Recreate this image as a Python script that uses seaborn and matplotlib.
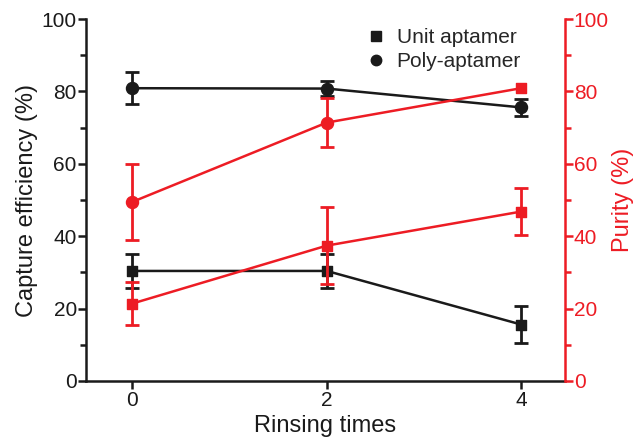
import numpy as np
import pandas as pd
import matplotlib
matplotlib.use("Agg")
import matplotlib.pyplot as plt
import seaborn as sns
from matplotlib.ticker import MultipleLocator
from matplotlib.lines import Line2D

# datos
rinsing = [0, 2, 4]

unit_capture = [30.4, 30.4, 15.6]
unit_capture_err = [4.6, 4.8, 5.2]
poly_capture = [80.9, 80.8, 75.6]
poly_capture_err = [4.5, 2.0, 2.3]

unit_purity = [21.4, 37.4, 46.8]
unit_purity_err = [6.0, 10.6, 6.5]
poly_purity = [49.5, 71.4, 80.9]
poly_purity_err = [10.5, 6.8, 0.0]

RED = "#ED1C24"
BLACK = "#1a1a1a"

sns.set_style("ticks")
plt.rcParams["font.family"] = ["Liberation Sans", "DejaVu Sans"]

fig = plt.figure(figsize=(6.36, 4.44), dpi=100)
ax = fig.add_axes([0.135, 0.142, 0.753, 0.815])
ax2 = ax.twinx()

df_cap = pd.DataFrame({
    "x": rinsing * 2,
    "y": unit_capture + poly_capture,
    "err": unit_capture_err + poly_capture_err,
    "serie": ["Unit aptamer"] * 3 + ["Poly-aptamer"] * 3,
})
df_pur = pd.DataFrame({
    "x": rinsing * 2,
    "y": unit_purity + poly_purity,
    "err": unit_purity_err + poly_purity_err,
    "serie": ["Unit aptamer"] * 3 + ["Poly-aptamer"] * 3,
})

def draw(axis, df, color):
    for serie, g in df.groupby("serie"):
        g = g[g["err"] > 0]
        axis.errorbar(g["x"], g["y"], yerr=g["err"], fmt="none",
                      ecolor=color, elinewidth=2, capsize=5, capthick=2, zorder=2)
    sns.lineplot(data=df, x="x", y="y", units="serie", estimator=None,
                 color=color, linewidth=1.8, ax=axis, zorder=3, legend=False)

draw(ax, df_cap, BLACK)
draw(ax2, df_pur, RED)

# marcadores (en la figura original el ultimo punto rojo superior es cuadrado)
ax.scatter(rinsing, unit_capture, marker="s", s=60, color=BLACK, zorder=4)
ax.scatter(rinsing, poly_capture, marker="o", s=75, color=BLACK, zorder=4)
ax2.scatter(rinsing, unit_purity, marker="s", s=60, color=RED, zorder=4)
poly_marks = ["o", "o", "s"]
for xi, yi, m in zip(rinsing, poly_purity, poly_marks):
    ax2.scatter([xi], [yi], marker=m, s=75 if m == "o" else 60, color=RED, zorder=4)

for a in (ax, ax2):
    a.set_xlim(-0.48, 4.45)
    a.set_ylim(0, 100)
    a.yaxis.set_major_locator(MultipleLocator(20))
    a.yaxis.set_minor_locator(MultipleLocator(10))

ax.set_xticks(rinsing)
ax.spines["top"].set_visible(False)
ax2.spines["top"].set_visible(False)
ax.spines["right"].set_visible(False)
ax2.spines["left"].set_visible(False)
ax2.spines["bottom"].set_visible(False)
for s in ("left", "bottom"):
    ax.spines[s].set_linewidth(1.8)
    ax.spines[s].set_color(BLACK)
ax2.spines["right"].set_linewidth(1.8)
ax2.spines["right"].set_color(RED)

ax.tick_params(axis="both", which="major", length=6, width=1.8, labelsize=15,
               colors=BLACK, pad=1)
ax.tick_params(axis="y", which="major", pad=0.5)
ax.tick_params(axis="y", which="minor", length=4, width=1.8, colors=BLACK)
ax2.tick_params(axis="y", which="major", length=6, width=1.8, labelsize=15,
                colors=RED, labelcolor=RED, pad=0.5)
ax2.tick_params(axis="y", which="minor", length=4, width=1.8, colors=RED)

ax.set_xlabel("Rinsing times", fontsize=17, color=BLACK, labelpad=4)
ax.set_ylabel("Capture efficiency (%)", fontsize=17, color=BLACK, labelpad=3)
ax2.set_ylabel("Purity (%)", fontsize=17, color=RED, labelpad=2)

handles = [
    Line2D([], [], marker="s", color=BLACK, linestyle="none", markersize=7),
    Line2D([], [], marker="o", color=BLACK, linestyle="none", markersize=7.5),
]
ax2.legend(handles, ["Unit aptamer", "Poly-aptamer"], loc="upper left",
           bbox_to_anchor=(0.562, 1.004), frameon=False, fontsize=15,
           borderpad=0, handletextpad=0.5, labelspacing=0.25, handlelength=1.0)

fig.savefig("out.png", dpi=100)
